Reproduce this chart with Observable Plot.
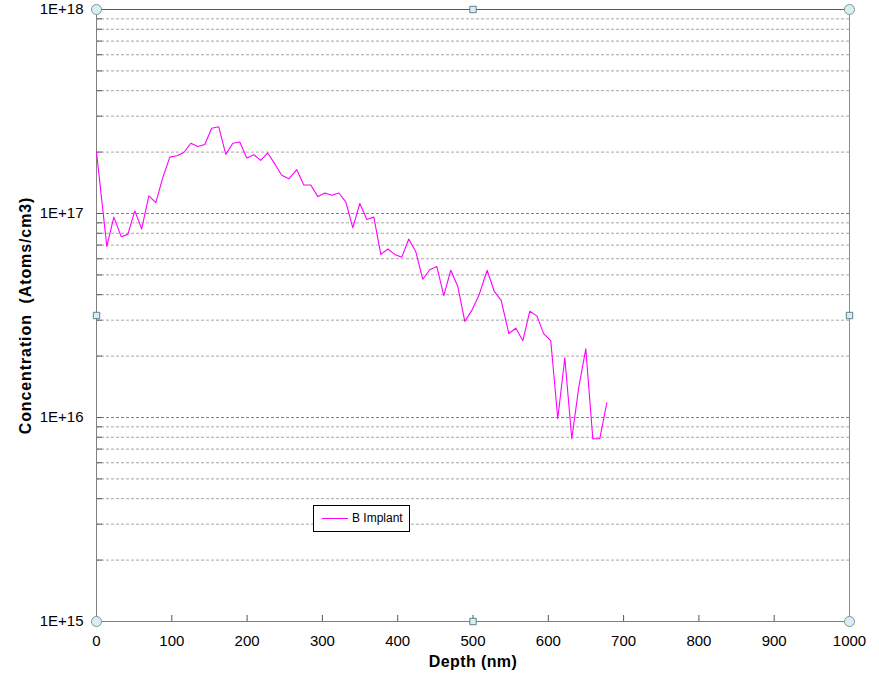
<!DOCTYPE html>
<html><head><meta charset="utf-8">
<script src="https://cdn.jsdelivr.net/npm/d3@7"></script>
<script src="https://cdn.jsdelivr.net/npm/@observablehq/plot@0.6"></script>
<style>
body{margin:0;background:#fff;font-family:"Liberation Sans",Arial,sans-serif}
#wrap{position:relative;width:879px;height:677px}
#legend{position:absolute;left:313px;top:505px;width:97px;height:27px;border:1px solid #000;background:#fff;box-sizing:border-box}
#legend .ln{position:absolute;left:8px;top:12px;width:26px;height:0;border-top:1px solid #ff00ff}
#legend .tx{position:absolute;left:38px;top:5px;font-size:12px;color:#000;line-height:14px}
</style>
</head><body>
<div id="wrap"><div id="chart"></div>
<div id="legend"><div class="ln"></div><div class="tx">B Implant</div></div>
</div>
<script>
const depth = [0, 13.7, 23, 32.8, 41.6, 50.9, 60, 69.5, 78.8, 88,
  97.4, 106.7, 116, 125.3, 134.5, 143.8, 153, 162.4, 171.7, 181,
  190.3, 199.6, 209, 218, 227.4, 236.8, 246, 255.4, 266, 275.3,
  284.6, 293.9, 303.2, 312.5, 321.8, 331.1, 340.4, 349.7, 359, 368.3,
  377.6, 386.9, 396.1, 405.4, 414.7, 424, 433.3, 442.6, 451.9, 461.2,
  470.5, 479.8, 489.1, 498.4, 507.7, 518.8, 528.1, 537.4, 547.6, 556.9,
  566.2, 575.4, 584.8, 594, 603.3, 612.6, 621.9, 631.2, 640.5, 649.8,
  659.1, 668.4, 677.7];
const conc = [2.0e17, 6.9e16, 9.6e16, 7.7e16, 7.9e16, 1.03e17, 8.4e16, 1.22e17, 1.13e17, 1.5e17,
  1.89e17, 1.92e17, 1.99e17, 2.21e17, 2.13e17, 2.18e17, 2.62e17, 2.66e17, 1.95e17, 2.21e17,
  2.24e17, 1.87e17, 1.94e17, 1.82e17, 1.98e17, 1.75e17, 1.54e17, 1.48e17, 1.64e17, 1.38e17,
  1.38e17, 1.21e17, 1.26e17, 1.23e17, 1.26e17, 1.14e17, 8.5e16, 1.12e17, 9.35e16, 9.6e16,
  6.3e16, 6.7e16, 6.3e16, 6.1e16, 7.5e16, 6.5e16, 4.76e16, 5.3e16, 5.5e16, 3.96e16,
  5.27e16, 4.39e16, 2.96e16, 3.35e16, 3.96e16, 5.27e16, 4.16e16, 3.75e16, 2.58e16, 2.74e16,
  2.38e16, 3.32e16, 3.15e16, 2.57e16, 2.38e16, 9.86e15, 1.96e16, 7.87e15, 1.41e16, 2.17e16,
  7.87e15, 7.87e15, 1.18e16];
const seriesName = "B Implant";
const yMajor = [1e15, 1e16, 1e17, 1e18];
const xTicks = [0, 100, 200, 300, 400, 500, 600, 700, 800, 900, 1000];
const xLabel = "Depth (nm)";
const yLabel = "Concentration \u00a0(Atoms/cm3)";

const data = depth.map((d, i) => ({depth: d, conc: conc[i]}));
const yMinor = [];
for (const dec of [1e15, 1e16, 1e17]) for (let m = 2; m <= 9; m++) yMinor.push(m * dec);
const yInner = yMinor.concat([1e16, 1e17]);
const xInner = xTicks.slice(1, -1);
const xDom = [xTicks[0], xTicks[xTicks.length - 1]];
const yDom = [yMajor[0], yMajor[yMajor.length - 1]];
const corners = [[xDom[0], yDom[0]], [xDom[1], yDom[0]], [xDom[0], yDom[1]], [xDom[1], yDom[1]]];
const yMid = Math.sqrt(yDom[0] * yDom[1]);
const xMid = (xDom[0] + xDom[1]) / 2;
const mids = [[xMid, yDom[0]], [xMid, yDom[1]], [xDom[0], yMid], [xDom[1], yMid]];

const W = 879, H = 677, mL = 96, mR = 30, mT = 9, mB = 56;
const plot = Plot.plot({
  width: W, height: H,
  marginLeft: mL, marginRight: mR, marginTop: mT, marginBottom: mB,
  style: {fontFamily: "'Liberation Sans', Arial, sans-serif", fontSize: "15px", color: "#000", background: "#fff"},
  x: {domain: xDom, label: null},
  y: {type: "log", domain: yDom, label: null},
  marks: [
    Plot.ruleY(yMinor, {stroke: "#a6a6a6", strokeDasharray: "3,2"}),
    Plot.ruleY([1e16, 1e17], {stroke: "#808080", strokeDasharray: "3,2"}),
    Plot.ruleY(yInner, {stroke: "#555", insetRight: W - mL - mR - 6}),
    Plot.ruleX(xInner, {stroke: "#555", insetTop: H - mT - mB - 6}),
    Plot.ruleX([xDom[0]], {stroke: "#808080"}),
    Plot.ruleX([xDom[1]], {stroke: "#8c8c8c"}),
    Plot.ruleY([yDom[0]], {stroke: "#808080"}),
    Plot.ruleY([yDom[1]], {stroke: "#595959"}),
    Plot.axisY({ticks: yMajor, tickSize: 0, tickPadding: 13, fontSize: 15, tickFormat: d => "1E+" + Math.round(Math.log10(d)), label: null}),
    Plot.axisX({ticks: xTicks, tickSize: 0, tickPadding: 14, fontSize: 15, tickFormat: d => String(d), label: null}),
    Plot.line(data, {x: "depth", y: "conc", stroke: "#ff00ff", strokeWidth: 1.1}),
    Plot.dot(corners, {x: d => d[0], y: d => d[1], r: 5, fill: "#d9eef2", stroke: "#7f969e", strokeWidth: 1}),
    Plot.dot(mids, {x: d => d[0], y: d => d[1], symbol: "square", r: 3.6, fill: "#d9eef2", stroke: "#5f7f8c", strokeWidth: 1}),
    Plot.text([xLabel], {frameAnchor: "bottom", dy: 45, textAnchor: "middle", fontWeight: "bold", fontSize: 16}),
    Plot.text([yLabel], {frameAnchor: "left", dx: -71, rotate: -90, textAnchor: "middle", fontWeight: "bold", fontSize: 16})
  ]
});
document.getElementById("chart").appendChild(plot);
d3.select(plot).selectAll("text").each(function () {
  const t = this.textContent;
  if (t === yLabel) this.style.letterSpacing = "0.9px";
  else if (t === xLabel) this.style.letterSpacing = "0.4px";
});
</script>
</body></html>
